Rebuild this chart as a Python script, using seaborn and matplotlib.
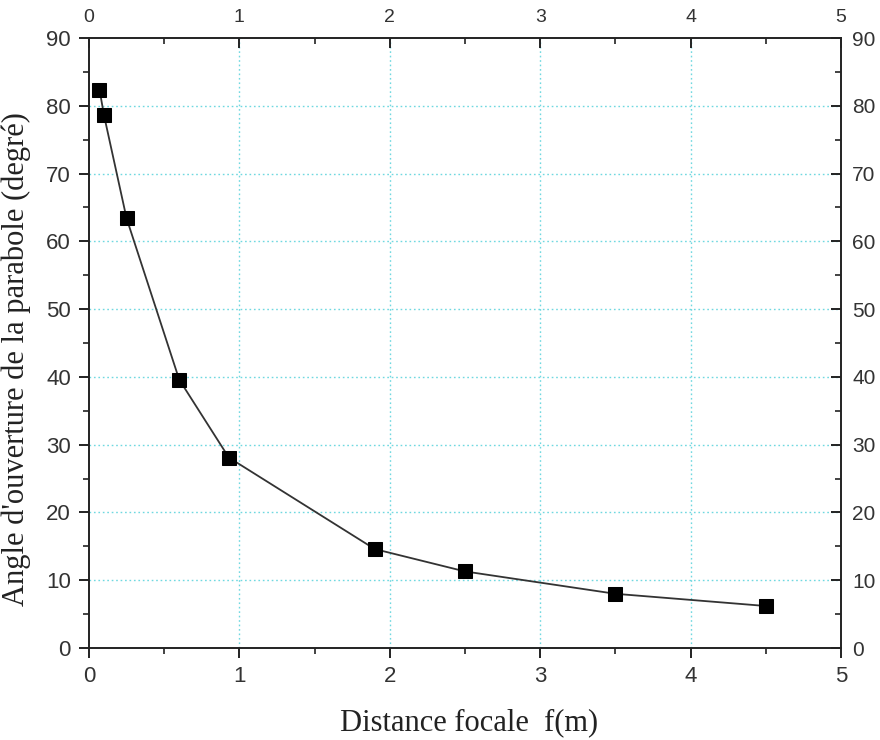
import matplotlib
matplotlib.use("Agg")
import matplotlib.pyplot as plt
from matplotlib.ticker import MultipleLocator
import seaborn as sns
import pandas as pd

# Focal distance (m) and opening angle of the parabola (degrees)
focal_distance = [0.07, 0.10, 0.25, 0.60, 0.93, 1.90, 2.50, 3.50, 4.50]
opening_angle = [82.4, 78.6, 63.4, 39.6, 28.1, 14.6, 11.3, 8.0, 6.2]

x_ticks = [0, 1, 2, 3, 4, 5]
y_ticks = [0, 10, 20, 30, 40, 50, 60, 70, 80, 90]

sns.set_theme(style="white")
plt.rcParams["font.family"] = ["Liberation Sans", "DejaVu Sans"]

df = pd.DataFrame({"f": focal_distance, "angle": opening_angle})

fig = plt.figure(figsize=(8.8, 7.4), dpi=100)
ax = fig.add_axes([0.1011, 0.1243, 0.8546, 0.8243])

sns.lineplot(data=df, x="f", y="angle", ax=ax, color="#333333", linewidth=1.3,
             marker="s", markersize=9.5, markerfacecolor="black",
             markeredgecolor="black", sort=False)

ax.set_xlim(0, 5)
ax.set_ylim(0, 90)
ax.set_xticks(x_ticks)
ax.set_yticks(y_ticks)
ax.xaxis.set_minor_locator(MultipleLocator(0.5))
ax.yaxis.set_minor_locator(MultipleLocator(5))

grid_color = "#6fd8e0"
for v in x_ticks[1:-1]:
    ax.axvline(v, color=grid_color, linestyle=(0, (1.2, 2.0)), linewidth=1.0, zorder=0)
for v in y_ticks[1:-1]:
    ax.axhline(v, color=grid_color, linestyle=(0, (1.2, 2.0)), linewidth=1.0, zorder=0)

for side in ["left", "right", "top", "bottom"]:
    ax.spines[side].set_visible(True)
    ax.spines[side].set_color("#222222")
    ax.spines[side].set_linewidth(1.4)

ax.tick_params(which="major", direction="out", length=7, width=1.4,
               colors="#222222", labelsize=16, bottom=True, left=True, pad=6)
ax.tick_params(which="minor", direction="out", length=4, width=1.2,
               colors="#222222", bottom=True, left=True)
for lab in ax.get_xticklabels() + ax.get_yticklabels():
    lab.set_color("#333333")

# Mirrored axes on top and right with inward ticks
top = ax.secondary_xaxis("top")
top.set_xticks(x_ticks)
top.xaxis.set_minor_locator(MultipleLocator(0.5))
top.tick_params(which="major", direction="in", length=7, width=1.4,
                colors="#222222", labelsize=14, pad=9)
top.tick_params(which="minor", direction="in", length=4, width=1.2, colors="#222222")
top.spines["top"].set_visible(False)

right = ax.secondary_yaxis("right")
right.set_yticks(y_ticks)
right.yaxis.set_minor_locator(MultipleLocator(5))
right.tick_params(which="major", direction="in", length=7, width=1.4,
                  colors="#222222", labelsize=15, pad=8)
right.tick_params(which="minor", direction="in", length=4, width=1.2, colors="#222222")
right.spines["right"].set_visible(False)

for lab in top.get_xticklabels() + right.get_yticklabels():
    lab.set_color("#333333")

ax.set_xlabel("Distance focale  f(m)", fontsize=22, family=["Liberation Serif"],
              color="#222222")
ax.xaxis.set_label_coords(0.505, -0.098)
ax.set_ylabel("Angle d'ouverture de la parabole (degré)", fontsize=22,
              family=["Liberation Serif"], color="#222222")
ax.yaxis.set_label_coords(-0.077, 0.474)

fig.savefig("out.png", dpi=100, facecolor="white")
